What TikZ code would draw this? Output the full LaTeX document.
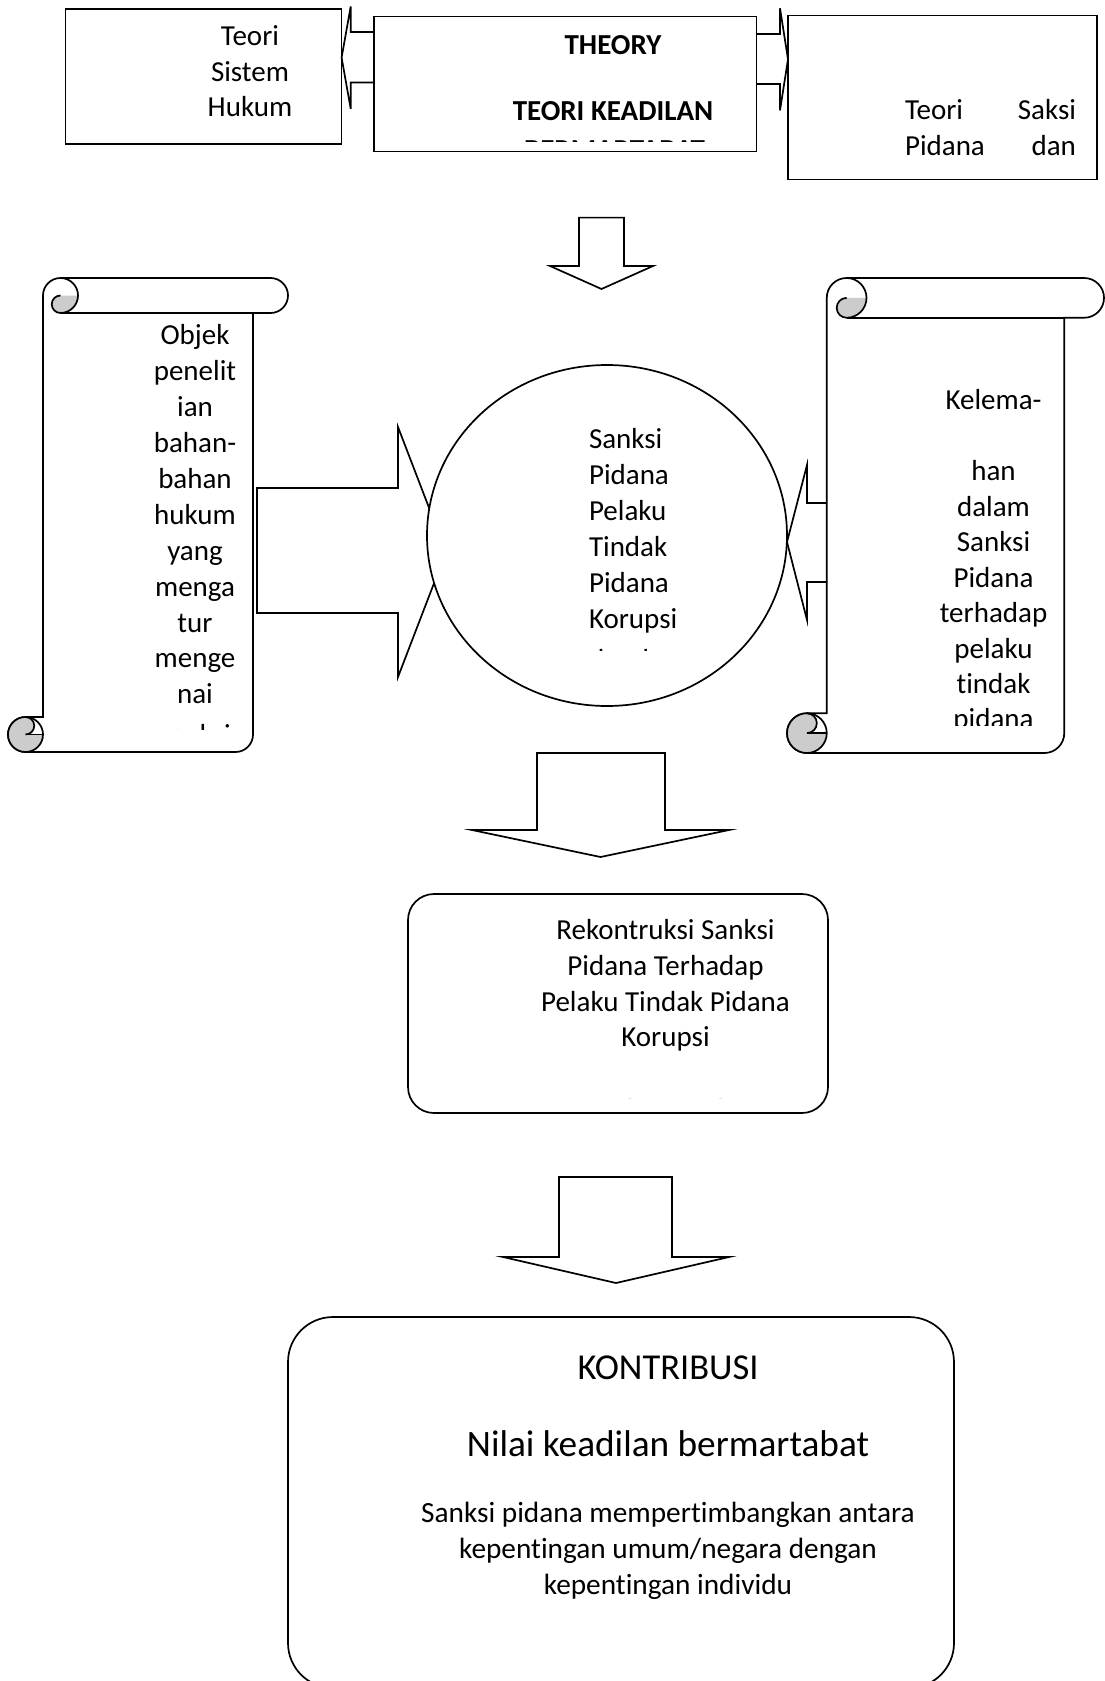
\documentclass[tikz,border=0pt]{standalone}
\usepackage{fontspec}
\setmainfont{Carlito}[Ligatures={NoCommon}]
\usetikzlibrary{shapes.geometric}
\definecolor{curlgray}{RGB}{204,204,204}
\newcommand{\bodyfont}[1]{\fontsize{29pt}{#1pt}\selectfont}
% vertical scroll: #1 left, #2 top, #3 right, #4 bottom, #5 roll size (y grows downward)
\newcommand{\vscroll}[5]{%
 \pgfmathsetmacro\sH{#5/2}%
 \pgfmathsetmacro\sQ{#5/4}%
 \pgfmathsetmacro\sA{#1+#5}%
 \pgfmathsetmacro\sB{#3-#5}%
 \pgfmathsetmacro\sCx{#1+1.5*#5}%
 \pgfmathsetmacro\sCy{#2+#5/2}%
 \pgfmathsetmacro\sT{#2+#5}%
 \pgfmathsetmacro\sE{#3-#5/2}%
 \pgfmathsetmacro\sDx{#1+#5/2}%
 \pgfmathsetmacro\sDy{#4-#5/2}%
 \pgfmathsetmacro\sU{#4-#5}%
 \draw[fill=white] (\sA,\sCy) arc[start angle=180,end angle=270,radius=\sH]
   -- (\sE,#2) arc[start angle=270,end angle=450,radius=\sH]
   -- (\sB,\sT) -- (\sB,\sDy) arc[start angle=0,end angle=90,radius=\sH]
   -- (\sDx,#4) arc[start angle=90,end angle=270,radius=\sH]
   -- (\sA,\sU) -- cycle;
 \draw (\sB,\sT) -- (\sCx,\sT);
 \fill[curlgray] (\sCx,\sCy) -- ++(\sH,0) arc[start angle=0,end angle=90,radius=\sH]
   arc[start angle=90,end angle=270,radius=\sQ] -- cycle;
 \draw (\sCx,#2) arc[start angle=270,end angle=450,radius=\sH]
   arc[start angle=90,end angle=270,radius=\sQ];
 \fill[curlgray] (\sDx,\sDy) -- ++(\sH,0) arc[start angle=0,end angle=270,radius=\sH]
   arc[start angle=270,end angle=450,radius=\sQ] -- cycle;
 \draw (\sDx,\sDy) circle[radius=\sH];
 \draw (\sDx,\sDy) -- ++(\sH,0);
 \draw (\sDx,\sU) arc[start angle=270,end angle=450,radius=\sQ];
}
\begin{document}
\begin{tikzpicture}[x=1pt,y=-1pt,line width=1.7pt,
  every node/.style={inner sep=0pt,outer sep=0pt},
  frame/.style={draw,fill=white},
  txt/.style={align=center}]
\useasboundingbox (0,0) rectangle (1105,1681);
\clip (0,0) rectangle (1105,1681);

% top boxes
\node[frame,minimum width=276pt,minimum height=135pt] (sistem) at (203.6,76.5) {};
\node[frame,minimum width=382.5pt,minimum height=135pt] (theory) at (565.25,84.1) {};
\node[frame,minimum width=309pt,minimum height=164pt] (saksi) at (942.5,97.6) {};

% top block arrows
\draw (374,32) -- (350.7,32) -- (350.7,6.4) -- (341.6,57.6) -- (350.7,108.8) -- (350.7,82.4) -- (374,82.4);
\draw (756.5,34) -- (780,34) -- (780,8.3) -- (788,59.3) -- (780,110.4) -- (780,84) -- (756.5,84);

% down arrow 1
\draw[fill=white] (579,217.6) -- (624,217.6) -- (624,266) -- (653,266) -- (601.5,289) -- (550,266) -- (579,266) -- cycle;

% scrolls
\vscroll{8}{278}{288}{752}{35}
\vscroll{787}{278}{1104}{753}{39.75}

% side arrows and circle
\draw[fill=white] (257,488) -- (398,488) -- (398,427) -- (446,552) -- (398,677) -- (398,613) -- (257,613) -- cycle;
\node[draw,ellipse,fill=white,minimum width=360pt,minimum height=341pt] (core) at (607,535.5) {};
\draw (827,503) -- (807,503) -- (807,465) -- (787,542) -- (807,620) -- (807,582) -- (827,582);

% texts top
\node[txt,font=\bodyfont{35.5}] (tsistem) at (250,74.2) {Teori\strut\\Sistem\strut\\Hukum\strut};
\node[txt,font={\bodyfont{33.25}\bfseries}] (ttheory) at (613,80.8) {THEORY\strut\\\strut\\TEORI KEADILAN\strut};
\begin{scope}
 \clip (380,100) rectangle (750,141.5);
 \node[font={\bodyfont{35}\bfseries},anchor=base] (tbermart) at (614.5,159.6) {BERMARTABAT};
\end{scope}
\node[align=left,font=\bodyfont{36.5}] (tsaksi) at (990.5,130.2) {\hbox to 171pt{Teori\hfill Saksi\strut}\\\hbox to 171pt{Pidana\hfill dan\strut}};

% left scroll text
\node[txt,font=\bodyfont{35.9}] (tobjek) at (195,517.2) {Objek\strut\\penelit\strut\\ian\strut\\bahan-\strut\\bahan\strut\\hukum\strut\\yang\strut\\menga\strut\\tur\strut\\menge\strut\\nai\strut};
\begin{scope}
 \clip (140,700) rectangle (250,729);
 \node[font=\bodyfont{35},anchor=base] (tsanksiclip) at (195,744.2) {sanksi};
\end{scope}

% circle text
\node[align=left,anchor=west,font=\bodyfont{36}] (tcore) at (589,531.7) {Sanksi\strut\\Pidana\strut\\Pelaku\strut\\Tindak\strut\\Pidana\strut\\Korupsi\strut};
\begin{scope}
 \clip (580,600) rectangle (720,650.5);
 \node[font=\bodyfont{35},anchor=base west] (tcoreclip) at (589,669) {denda};
\end{scope}

% right scroll text
\node[txt,font=\bodyfont{35.5}] (tkelemahan) at (993.5,544.7) {Kelema-\strut\\\strut\\han\strut\\dalam\strut\\Sanksi\strut\\Pidana\strut\\terhadap\strut\\pelaku\strut\\tindak\strut};
\begin{scope}
 \clip (930,690) rectangle (1055,725.5);
 \node[font=\bodyfont{35},anchor=base] (tpidanaclip) at (993.5,728.8) {pidana};
\end{scope}

% down arrow 2 and reconstruction box
\draw[fill=white] (537,753) -- (665,753) -- (665,830) -- (729,830) -- (600.5,857) -- (472,830) -- (537,830) -- cycle;
\node[frame,rounded corners=26pt,minimum width=420pt,minimum height=219pt] (rekon) at (618,1003.5) {};
\node[txt,font=\bodyfont{35.67}] (trekon) at (665.5,986.2) {Rekontruksi Sanksi\strut\\Pidana Terhadap\strut\\Pelaku Tindak Pidana\strut\\Korupsi\strut};
\begin{scope}
 \clip (540,1060) rectangle (800,1098.6);
 \node[font=\bodyfont{35},anchor=base] (trekonclip) at (665.5,1119) {Berbasis Nilai};
\end{scope}

% down arrow 3 and contribution box
\draw[fill=white] (559,1177) -- (672,1177) -- (672,1257) -- (729,1257) -- (616,1283) -- (503,1257) -- (559,1257) -- cycle;
\node[frame,rounded corners=45pt,minimum width=666pt,minimum height=371pt] (kontrib) at (621,1502.5) {};
\node[font={\fontsize{36.5pt}{44pt}\selectfont},anchor=base] (tkontrib) at (668,1379) {KONTRIBUSI};
\node[font={\fontsize{37.3pt}{45pt}\selectfont},anchor=base] (tnilai) at (668,1456) {Nilai keadilan bermartabat};
\node[txt,font={\fontsize{29.3pt}{35.8pt}\selectfont}] (tdesc) at (668,1551.2) {Sanksi pidana mempertimbangkan antara\strut\\kepentingan umum/negara dengan\strut\\kepentingan individu\strut};
\end{tikzpicture}
\end{document}
